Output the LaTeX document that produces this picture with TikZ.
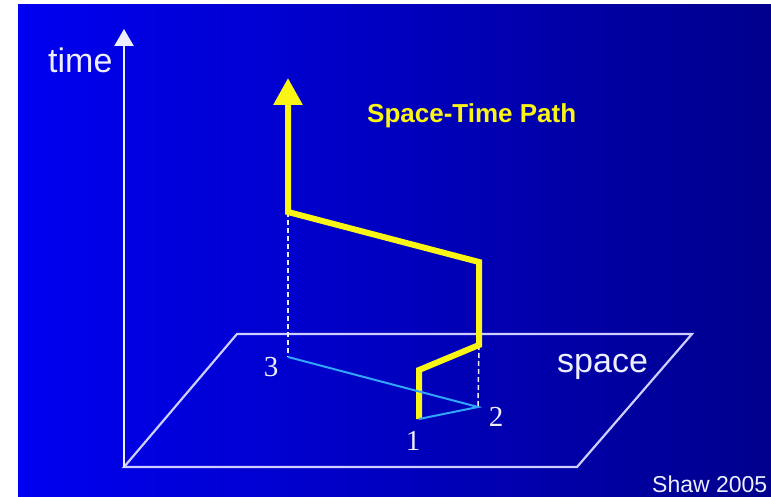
\documentclass[tikz,border=0pt]{standalone}
\usepackage{fontspec}
\setmainfont{Liberation Sans}
\newfontfamily\digitfont{Liberation Serif}
\usepackage{tikz}
\usetikzlibrary{arrows.meta, positioning, calc}

\definecolor{slideblue}{RGB}{0,0,242}
\definecolor{slidenavy}{RGB}{0,0,140}
\definecolor{pathyellow}{RGB}{250,245,20}
\definecolor{traceblue}{RGB}{50,165,255}
\definecolor{planeline}{RGB}{205,205,255}
\definecolor{labelwhite}{RGB}{238,238,255}

\begin{document}
\begin{tikzpicture}[
    x=1pt, y=-1pt,
    axis/.style={draw=labelwhite, line width=2.4pt, -{Triangle[length=17pt, width=19pt]}},
    plane/.style={draw=planeline, line width=2.2pt, line join=miter},
    drop/.style={draw=labelwhite, line width=1.5pt, dash pattern=on 5pt off 3pt},
    trace/.style={draw=traceblue, line width=2pt},
    stpath/.style={draw=pathyellow, line width=6pt, line join=miter,
                   -{Triangle[length=27pt, width=28pt]}},
    bigword/.style={text=labelwhite, inner sep=0pt, anchor=base west, font=\fontsize{34}{38}\selectfont},
    stop/.style={text=labelwhite, inner sep=0pt, anchor=base, font=\digitfont\fontsize{29}{33}\selectfont},
  ]
    % background
    \useasboundingbox (0,0) rectangle (771,497);
    \fill[white] (0,0) rectangle (771,497);
    \fill[left color=slideblue, right color=slidenavy] (18,5) rectangle (771,497);

    % axis and plane
    \coordinate (foot) at (124,467);
    \coordinate (up)   at (124,29);
    \coordinate (pb) at (577,467);
    \coordinate (pc) at (692,334);
    \coordinate (pd) at (237,334);
    \draw[plane] (foot) -- (pb) -- (pc) -- (pd) -- cycle;
    \draw[axis] (foot) -- (up);

    % stops on the plane
    \coordinate (s1) at (419,419);
    \coordinate (s2) at (478,407);
    \coordinate (s3) at (288,357);

    % bends of the path
    \coordinate (b1) at (419,370);
    \coordinate (b2) at (479,345);
    \coordinate (b3) at (479,262);
    \coordinate (b4) at (288,212);
    \coordinate (tip) at (288,78);

    \draw[drop] (b4) -- (s3);
    \draw[drop] (b2) -- (s2);

    \draw[stpath] (s1) -- (b1) -- (b2) -- (b3) -- (b4) -- (tip);
    \draw[trace] (s3) -- (s2) -- (s1);

    % labels
    \node[bigword] (timelbl) at (48,73) {time};
    \node[bigword] (spacelbl) at (557,372) {space};
    \node[text=pathyellow, inner sep=0pt, anchor=base west,
          font=\fontsize{26}{30}\selectfont\bfseries] (title) at (367,123) {Space-Time Path};
    \node[stop] (n1) at (413,450) {1};
    \node[stop] (n2) at (496,426) {2};
    \node[stop] (n3) at (271,376) {3};
    \node[text=labelwhite, inner sep=0pt, anchor=base west,
          font=\fontsize{23}{27}\selectfont] (credit) at (652,492) {Shaw 2005};
\end{tikzpicture}
\end{document}
